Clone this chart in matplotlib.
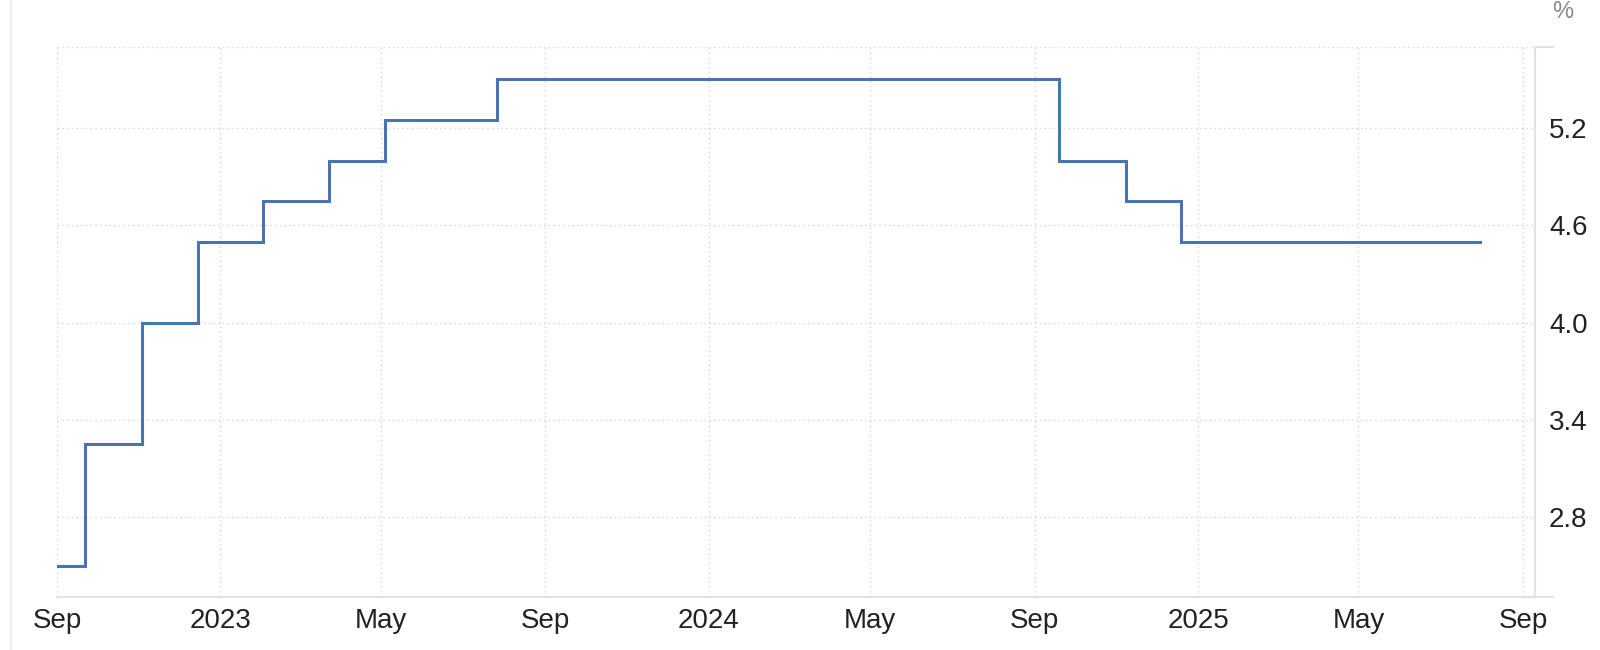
import matplotlib
matplotlib.use("Agg")
import matplotlib.pyplot as plt
from matplotlib.lines import Line2D
import pandas as pd

plt.rcParams['font.family'] = ['Liberation Sans', 'DejaVu Sans']

# Data: policy rate (upper bound, %) step changes
dates = ["2022-09-01", "2022-09-22", "2022-11-03", "2022-12-15", "2023-02-02",
         "2023-03-23", "2023-05-04", "2023-07-27", "2024-09-19", "2024-11-08",
         "2024-12-19", "2025-07-31"]
rates = [2.50, 3.25, 4.00, 4.50, 4.75, 5.00, 5.25, 5.50, 5.00, 4.75, 4.50, 4.50]

ytick_vals = [2.8, 3.4, 4.0, 4.6, 5.2]
ytick_labels = ["2.8", "3.4", "4.0", "4.6", "5.2"]
xtick_dates = ["2022-09-01", "2023-01-01", "2023-05-01", "2023-09-01", "2024-01-01",
               "2024-05-01", "2024-09-01", "2025-01-01", "2025-05-01", "2025-09-01"]
xtick_labels = ["Sep", "2023", "May", "Sep", "2024", "May", "Sep", "2025", "May", "Sep"]

W, H = 1600, 650
fig = plt.figure(figsize=(W / 100, H / 100), dpi=100)
left, right, top, bottom = 57.3, 1535, 47, 596.7
ax = fig.add_axes([left / W, 1 - bottom / H, (right - left) / W, (bottom - top) / H])

x = pd.to_datetime(dates)
ax.step(x, rates, where='post', color='#4a73b3', lw=2.2, solid_joinstyle='miter', zorder=3)

ax.set_xlim(pd.Timestamp("2022-09-01"), pd.Timestamp("2025-09-10"))
ax.set_ylim(2.31, 5.70)

grid_kw = dict(color='#d9d9d9', lw=1.0, ls=(0, (1.2, 2.2)), zorder=1)
for yv in ytick_vals + [5.70]:
    ax.axhline(yv, **grid_kw)
for d in xtick_dates:
    ax.axvline(pd.Timestamp(d), **grid_kw)

for s in ['top', 'left']:
    ax.spines[s].set_visible(False)
ax.spines['bottom'].set_color('#e2e2e2')
ax.spines['bottom'].set_linewidth(1.5)
ax.spines['right'].set_color('#e2e2e2')
ax.spines['right'].set_linewidth(1.5)

ax.set_yticks(ytick_vals)
ax.set_yticklabels(ytick_labels)
ax.yaxis.tick_right()
ax.tick_params(axis='y', length=0, pad=10, labelsize=20, labelcolor='#222222')

ax.set_xticks(pd.to_datetime(xtick_dates))
ax.set_xticklabels(xtick_labels)
ax.tick_params(axis='x', length=0, pad=8, labelsize=20, labelcolor='#222222')

# extensions of top and bottom border lines past the right axis
fig.add_artist(Line2D([right / W, 1553 / W], [1 - top / H, 1 - top / H],
                      color='#e2e2e2', lw=1.5))
fig.add_artist(Line2D([right / W, 1553 / W], [1 - bottom / H, 1 - bottom / H],
                      color='#e2e2e2', lw=1.5))
# faint container border at left
fig.add_artist(Line2D([11 / W, 11 / W], [0, 1], color='#f0f0f0', lw=1.5))

fig.text(1563 / W, 1 - 12 / H, "%", color='#8a8a8a', fontsize=17,
         ha='center', va='center')

fig.savefig("out.png", dpi=100, facecolor='white')
